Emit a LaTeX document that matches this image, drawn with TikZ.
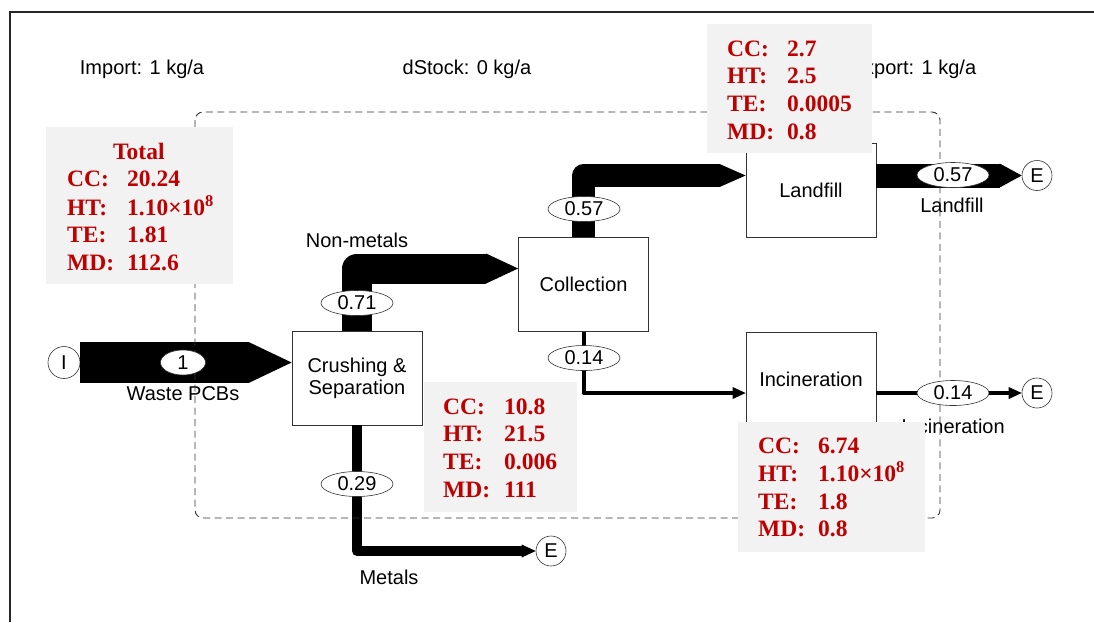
\documentclass[tikz,border=0pt]{standalone}
\usepackage{fontspec}
\setmainfont{Liberation Sans}
\newfontfamily\timesfont{Liberation Serif}
\usepackage{tikz}
\usetikzlibrary{arrows.meta,positioning,shapes.geometric}

\definecolor{impred}{HTML}{C00000}
\definecolor{impgray}{HTML}{F2F2F2}

\newcommand{\lblfont}{\fontsize{20}{22}\selectfont}
\newcommand{\impfont}{\timesfont\bfseries\fontsize{23.5}{27.7}\selectfont}

\begin{document}
\begin{tikzpicture}[
        x=1pt, y=-1pt,
        font=\lblfont,
        proc/.style={draw=black!80, fill=white, line width=0.8pt, minimum width=130pt, minimum height=94pt, inner sep=0pt, align=center},
        val/.style={ellipse, draw=black!80, fill=white, line width=0.6pt, minimum width=72pt, minimum height=25pt, inner sep=0pt},
        term/.style={circle, draw=black!80, fill=white, line width=0.6pt, minimum size=30pt, inner sep=0pt},
        flow/.style={line join=round},
        impbg/.style={fill=impgray, inner sep=0pt, anchor=north west},
        imptxt/.style={text=impred, font=\impfont, inner sep=0pt, anchor=north west}
    ]
    \useasboundingbox (0,0) rectangle (1094,622);
    \draw[black!85, line width=1.5pt] (10,622) -- (10,12) -- (1094,12);

    % processes and terminals
    \node[proc] (crush) at (357,378) {Crushing \&\\Separation};
    \node[proc] (coll) at (583.5,284.5) {Collection};
    \node[proc] (land) at (811,190) {Landfill};
    \node[proc] (incin) at (811,379) {Incineration};
    \node[term, minimum size=32pt] (imp) at (64,362.5) {I};
    \node[term] (eland) at (1037,175.5) {E};
    \node[term] (eincin) at (1037,393) {E};
    \node[term] (emet) at (551,551) {E};

    % flows
    \draw[flow, line width=41pt, -{Triangle[length=43pt, width=41pt, line width=0pt]}] (imp.east) -- (imp.east -| crush.west);
    \draw[flow, line width=30pt, -{Triangle[length=32pt, width=30pt, line width=0pt]}] (crush.north) |- ([yshift=16pt]coll.west);
    \draw[flow, line width=23pt, -{Triangle[length=26pt, width=23pt, line width=0pt]}] (coll.north) |- ([yshift=14.5pt]land.west);
    \draw[flow, line width=24pt, -{Triangle[length=22pt, width=24pt, line width=0pt]}] (land.east |- eland) -- (eland);
    \draw[flow, line width=4pt, -{Triangle[length=13pt, width=12pt, line width=0pt]}] (coll.south) |- ([yshift=-14pt]incin.west);
    \draw[flow, line width=4pt, -{Triangle[length=13pt, width=12pt, line width=0pt]}] (incin.east |- eincin) -- (eincin);
    \draw[flow, line width=10pt, -{Triangle[length=14pt, width=13pt, line width=0pt]}] (crush.south) |- (emet);

    % labels
    \node[anchor=base] (timport) at (142,74) {Import: 1 kg/a};
    \node[anchor=base] (tstock) at (467,74) {dStock: 0 kg/a};
    \node[anchor=base] (texport) at (913.5,74) {Export: 1 kg/a};
    \node[anchor=base] (lpcb) at (183,400) {Waste PCBs};
    \node[anchor=base] (lnon) at (357,247) {Non-metals};
    \node[anchor=base] (lland) at (952,212) {Landfill};
    \node[anchor=base] (lincin) at (953,433) {Incineration};
    \node[anchor=base] (lmet) at (389,584) {Metals};

    % system boundary
    \draw[black!80, line width=0.9pt, dash pattern=on 7pt off 4.5pt, rounded corners=8pt] (195,112) rectangle (940,518);

    % flow values
    \node[val, minimum width=45pt] (v1) at (183,362.5) {1};
    \node[val] (v071) at (357,303) {0.71};
    \node[val] (v057a) at (584,209) {0.57};
    \node[val] (v014a) at (584,358) {0.14};
    \node[val] (v029) at (357,484) {0.29};
    \node[val] (v057b) at (953,175) {0.57};
    \node[val] (v014b) at (953,393) {0.14};

    % impact boxes
    \node[impbg, minimum width=187pt, minimum height=157pt] (totbg) at (46,127) {};
    \node[imptxt] (tot) at (67,139.6) {\begin{tabular}{@{}p{60pt}@{}l@{}}
        \multicolumn{2}{@{\hspace{46pt}}l@{}}{Total}\\
        CC: & 20.24\\
        HT: & 1.10×10\textsuperscript{8}\\
        TE: & 1.81\\
        MD: & 112.6
    \end{tabular}};
    \node[impbg, minimum width=165pt, minimum height=129pt] (landbg) at (707,24) {};
    \node[imptxt] (landimp) at (727,36.6) {\begin{tabular}{@{}p{60pt}@{}l@{}}
        CC: & 2.7\\
        HT: & 2.5\\
        TE: & 0.0005\\
        MD: & 0.8
    \end{tabular}};
    \node[impbg, minimum width=153pt, minimum height=130pt] (crushbg) at (424,382) {};
    \node[imptxt] (crushimp) at (443,394.6) {\begin{tabular}{@{}p{61pt}@{}l@{}}
        CC: & 10.8\\
        HT: & 21.5\\
        TE: & 0.006\\
        MD: & 111
    \end{tabular}};
    \node[impbg, minimum width=187pt, minimum height=130pt] (incinbg) at (738,422) {};
    \node[imptxt] (incinimp) at (758,433.6) {\begin{tabular}{@{}p{60pt}@{}l@{}}
        CC: & 6.74\\
        HT: & 1.10×10\textsuperscript{8}\\
        TE: & 1.8\\
        MD: & 0.8
    \end{tabular}};
\end{tikzpicture}
\end{document}
